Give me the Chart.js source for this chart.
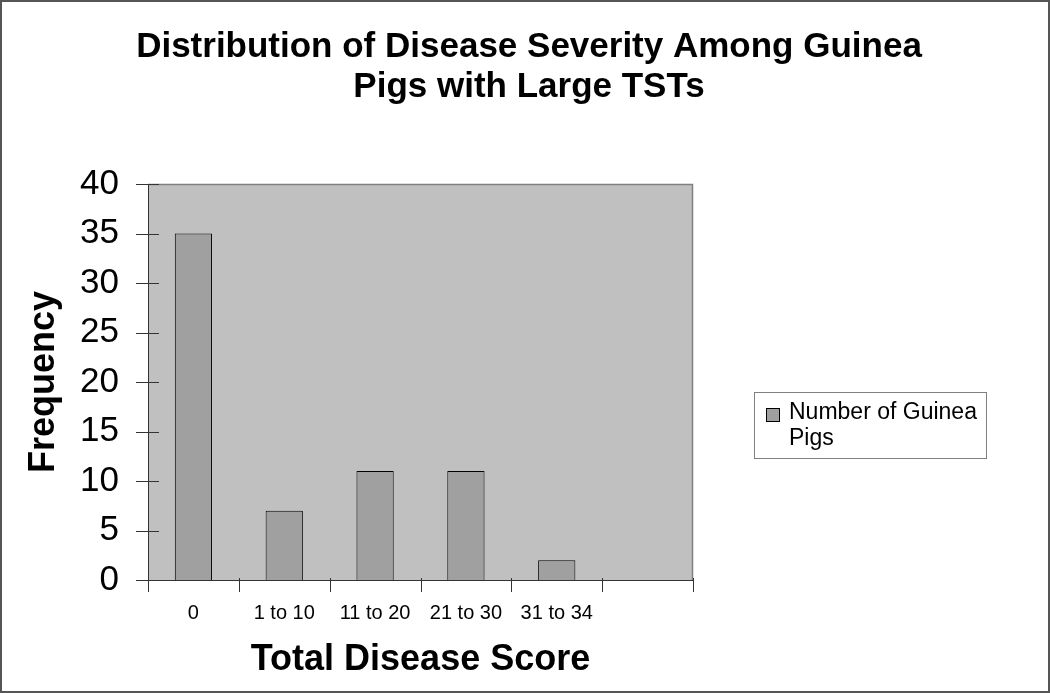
<!DOCTYPE html>
<html>
<head>
<meta charset="utf-8">
<script src="https://cdn.jsdelivr.net/npm/chart.js@4/dist/chart.umd.min.js"></script>
<style>
  html, body { margin: 0; padding: 0; background: #fff; }
  #wrap { width: 1050px; height: 693px; position: relative; }
</style>
</head>
<body>
<div id="wrap"><canvas id="chart" width="1050" height="693"></canvas></div>
<script>
  // ---- data ----
  const categories = ['0', '1 to 10', '11 to 20', '21 to 30', '31 to 34', ''];
  const guineaPigs = [35, 7, 11, 11, 2, null];
  const yTicks = [0, 5, 10, 15, 20, 25, 30, 35, 40];
  const titleLines = ['Distribution of Disease Severity Among Guinea', 'Pigs with Large TSTs'];
  const seriesLabel = ['Number of Guinea', 'Pigs'];

  const FONT = 'Arial, "Liberation Sans", sans-serif';

  // background, frame, plot area, title, crossing ticks, legend
  const decor = {
    id: 'decor',
    beforeDraw(chart) {
      const ctx = chart.ctx;
      const a = chart.chartArea;
      ctx.save();
      ctx.fillStyle = '#fff';
      ctx.fillRect(0, 0, chart.width, chart.height);
      ctx.strokeStyle = '#555';
      ctx.lineWidth = 2;
      ctx.strokeRect(1, 1, chart.width - 2, chart.height - 2);
      ctx.fillStyle = '#c0c0c0';
      ctx.fillRect(a.left, a.top, a.right - a.left, a.bottom - a.top);
      ctx.strokeStyle = '#808080';
      ctx.lineWidth = 1.5;
      ctx.beginPath();
      ctx.moveTo(a.left, a.top + 0.5);
      ctx.lineTo(a.right - 0.5, a.top + 0.5);
      ctx.lineTo(a.right - 0.5, a.bottom);
      ctx.stroke();

      // title, centred on the whole chart
      ctx.fillStyle = '#000';
      ctx.font = 'bold 35px ' + FONT;
      ctx.textAlign = 'center';
      ctx.textBaseline = 'alphabetic';
      titleLines.forEach((t, i) => ctx.fillText(t, chart.width / 2 + 4, 57 + i * 40));
      ctx.restore();
    },
    afterDraw(chart) {
      const ctx = chart.ctx;
      const a = chart.chartArea;
      const y = chart.scales.y;
      ctx.save();
      ctx.strokeStyle = '#333';
      ctx.lineWidth = 1;
      ctx.beginPath();
      y.ticks.forEach(t => {
        const py = Math.round(y.getPixelForValue(t.value)) + 0.5;
        ctx.moveTo(a.left - 12, py);
        ctx.lineTo(a.left + 11, py);
      });
      const n = categories.length;
      const step = (a.right - a.left) / n;
      for (let i = 0; i <= n; i++) {
        const px = Math.round(a.left + i * step) + 0.5;
        ctx.moveTo(px, a.bottom - 2);
        ctx.lineTo(px, a.bottom + 12);
      }
      ctx.stroke();

      // legend
      const ds = chart.data.datasets[0];
      const lx = 754, ly = 392, lw = 232, lh = 66;
      ctx.fillStyle = '#fff';
      ctx.fillRect(lx, ly, lw, lh);
      ctx.strokeStyle = '#808080';
      ctx.strokeRect(lx + 0.5, ly + 0.5, lw, lh);
      ctx.fillStyle = ds.backgroundColor;
      ctx.fillRect(lx + 12, ly + 16, 14, 14);
      ctx.strokeStyle = '#000';
      ctx.strokeRect(lx + 12.5, ly + 16.5, 13, 13);
      ctx.fillStyle = '#000';
      ctx.font = '23px ' + FONT;
      ctx.textAlign = 'left';
      ctx.textBaseline = 'alphabetic';
      seriesLabel.forEach((t, i) => ctx.fillText(t, lx + 35, ly + 27 + i * 26));
      ctx.restore();
    }
  };

  new Chart(document.getElementById('chart'), {
    type: 'bar',
    data: {
      labels: categories,
      datasets: [{
        label: seriesLabel.join(' '),
        data: guineaPigs,
        backgroundColor: '#a0a0a0',
        borderColor: '#000',
        borderWidth: 1,
        barPercentage: 0.41,
        categoryPercentage: 1
      }]
    },
    options: {
      responsive: false,
      animation: false,
      layout: { padding: { left: 0, right: 357, top: 184, bottom: 0 } },
      plugins: {
        legend: { display: false },
        title: { display: false },
        tooltip: { enabled: false }
      },
      scales: {
        x: {
          offset: true,
          grid: { display: false, drawTicks: false },
          border: { display: true, color: '#333', width: 1 },
          ticks: {
            color: '#000',
            font: { family: FONT, size: 20 },
            padding: 21,
            maxRotation: 0,
            autoSkip: false
          },
          title: {
            display: true,
            text: 'Total Disease Score',
            color: '#000',
            font: { family: FONT, size: 36, weight: 'bold' },
            padding: { top: 10, bottom: 11 }
          },
          afterFit(scale) { scale.height = 113; }
        },
        y: {
          min: 0,
          max: 40,
          afterBuildTicks(scale) { scale.ticks = yTicks.map(v => ({ value: v })); },
          grid: { display: false, drawTicks: false },
          border: { display: true, color: '#333', width: 1 },
          ticks: {
            color: '#000',
            font: { family: FONT, size: 35 },
            padding: 29
          },
          title: {
            display: true,
            text: 'Frequency',
            color: '#000',
            font: { family: FONT, size: 36, weight: 'bold' },
            padding: { top: 22, bottom: 0 }
          },
          afterFit(scale) { scale.width = 148; }
        }
      }
    },
    plugins: [decor]
  });
</script>
</body>
</html>
